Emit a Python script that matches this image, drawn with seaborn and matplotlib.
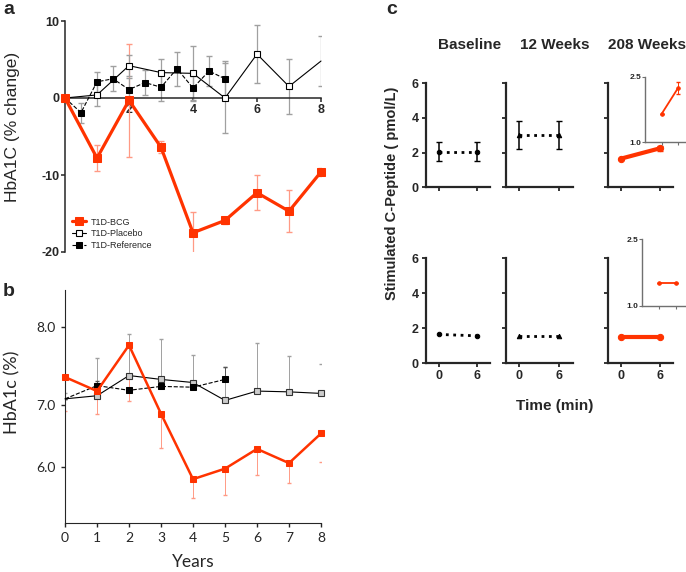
import matplotlib
matplotlib.use('Agg')
import matplotlib.pyplot as plt
import numpy as np
import seaborn as sns

sns.set_style('ticks')
plt.rcParams['font.family'] = ['Liberation Sans', 'DejaVu Sans']
plt.rcParams['axes.unicode_minus'] = False

W, H = 686, 572
RED = '#ff3300'
LRED = '#ff9a85'
GRAY = '#a0a0a0'

# panel a: HbA1C % change from baseline
years_a = [0, 1, 2, 3, 4, 5, 6, 7, 8]
bcg_a = [0, -7.8, -0.3, -6.4, -17.5, -15.9, -12.3, -14.7, -9.6]
bcg_a_err = [0, 1.7, 7.3, 0.8, 2.7, 0.4, 2.3, 2.7, 0.5]
placebo_a = [0, 0.4, 4.2, 3.3, 3.2, 0, 5.7, 1.5, 4.8]
placebo_a_err = [0, 1.5, 1.4, 1.8, 3.6, 4.5, 3.8, 3.6, 3.3]
ref_years_a = [0, 0.5, 1, 1.5, 2, 2.5, 3, 3.5, 4, 4.5, 5]
ref_a = [0, -1.9, 2.1, 2.5, 1.1, 2.0, 1.4, 3.8, 1.3, 3.5, 2.5]
ref_a_err = [0, 1.3, 1.3, 1.6, 1.5, 1.6, 1.8, 2.2, 1.5, 2.0, 2.3]

# panel b: HbA1c (%)
years_b = [0, 1, 2, 3, 4, 5, 6, 7, 8]
bcg_b = [7.36, 7.18, 7.77, 6.86, 5.80, 5.97, 6.29, 6.06, 6.54]
bcg_b_err = [0.45, 0.33, 0.72, 0.56, 0.30, 0.43, 0.42, 0.33, 0.47]
placebo_b = [7.08, 7.12, 7.38, 7.33, 7.29, 7.06, 7.18, 7.17, 7.15]
placebo_b_err = [0.07, 0.49, 0.54, 0.52, 0.35, 0.43, 0.62, 0.46, 0.38]
ref_years_b = [0, 1, 2, 3, 4, 5]
ref_b = [7.08, 7.25, 7.19, 7.24, 7.23, 7.33]
ref_b_err = [0, 0.06, 0, 0, 0, 0.16]

# panel c: stimulated C-peptide
times = [0, 6]
col_titles = ['Baseline', '12 Weeks', '208 Weeks']
top_vals = [[2.05, 2.05], [3.0, 3.0], [1.65, 2.25]]
top_err = [[0.55, 0.55], [0.8, 0.8], [0, 0.14]]
bot_vals = [[1.65, 1.57], [1.55, 1.55], [1.52, 1.52]]


def px_axes(fig, left, top, right, bottom):
    return fig.add_axes([left / W, 1 - bottom / H, (right - left) / W, (bottom - top) / H])


fig = plt.figure(figsize=(W / 100, H / 100), dpi=100)

# ---------------- panel a
ax = px_axes(fig, 65, 21, 321, 252)
ax.errorbar(years_a, bcg_a, yerr=bcg_a_err, fmt='none', ecolor=LRED, elinewidth=0.9, capsize=2, zorder=1)
ax.errorbar(years_a, placebo_a, yerr=placebo_a_err, fmt='none', ecolor=GRAY, elinewidth=0.9, capsize=2, zorder=1)
ax.errorbar(ref_years_a, ref_a, yerr=ref_a_err, fmt='none', ecolor=GRAY, elinewidth=0.9, capsize=2, zorder=1)
sns.lineplot(x=years_a, y=bcg_a, ax=ax, color=RED, lw=2.3, marker='s', ms=5.5, mec=RED,
             label='T1D-BCG', clip_on=False, zorder=4)
sns.lineplot(x=years_a, y=placebo_a, ax=ax, color='black', lw=0.8, marker='s', ms=4.5,
             mfc='white', mec='black', mew=0.8, markevery=list(range(8)),
             label='T1D-Placebo', clip_on=False, zorder=3)
sns.lineplot(x=ref_years_a, y=ref_a, ax=ax, color='black', lw=0.8, ls='--', marker='s', ms=4.5,
             mec='black', label='T1D-Reference', clip_on=False, zorder=3)
ax.set_xlim(0, 8)
ax.set_ylim(-20, 10)
ax.spines['bottom'].set_position(('data', 0))
ax.spines[['top', 'right']].set_visible(False)
for s in ['left', 'bottom']:
    ax.spines[s].set_linewidth(1.1)
ax.set_xticks([2, 4, 6, 8])
ax.set_yticks([10, 0, -10, -20])
ax.tick_params(labelsize=9, width=1.1, length=3, pad=1)
for t in ax.get_xticklabels() + ax.get_yticklabels():
    t.set_fontweight('bold')
ax.set_xlabel('')
ax.set_ylabel('')
ax.legend(loc='upper left', bbox_to_anchor=(68 / W, 1 - 214 / H), bbox_transform=fig.transFigure,
          frameon=False, fontsize=6.5, handlelength=1.6, labelspacing=0.3, handletextpad=0.5,
          borderaxespad=0)
fig.text(13 / W, 1 - 127 / H, 'HbA1C (% change)', rotation=90, ha='center', va='center', fontsize=12.5)

# ---------------- panel b (axis stretched above 7.0 like the original)
K = 77.7 / 61.7


def fwd(y):
    y = np.asarray(y, dtype=float)
    return np.where(y > 7, 7 + (y - 7) * K, y)


def inv(t):
    t = np.asarray(t, dtype=float)
    return np.where(t > 7, 7 + (t - 7) / K, t)


bx = px_axes(fig, 65, 290, 321, 523)
bx.set_yscale('function', functions=(fwd, inv))
bx.errorbar(years_b, bcg_b, yerr=[bcg_b_err, [0] * 9], fmt='none', ecolor=LRED, elinewidth=0.7, capsize=1.5, zorder=1)
bx.errorbar(years_b, placebo_b, yerr=[[0] * 9, placebo_b_err], fmt='none', ecolor=GRAY, elinewidth=0.7, capsize=1.5, zorder=1)
bx.errorbar(ref_years_b, ref_b, yerr=[[0] * 6, ref_b_err], fmt='none', ecolor='#555555', elinewidth=0.7, capsize=1.5, zorder=1)
sns.lineplot(x=years_b, y=bcg_b, ax=bx, color=RED, lw=1.8, marker='s', ms=4.5, mec=RED, clip_on=False, zorder=4)
sns.lineplot(x=years_b, y=placebo_b, ax=bx, color='black', lw=0.8, marker='s', ms=3.8,
             mfc='#cccccc', mec='#333333', mew=0.8, markevery=list(range(1, 9)), clip_on=False, zorder=3)
sns.lineplot(x=ref_years_b, y=ref_b, ax=bx, color='black', lw=0.8, ls='--', marker='s', ms=4,
             mec='black', markevery=list(range(1, 6)), clip_on=False, zorder=3)
bx.set_xlim(0, 8)
bx.set_ylim(5.09, 8.48)
bx.spines[['top', 'right']].set_visible(False)
bx.set_xticks(years_b)
bx.set_yticks([6.0, 7.0, 8.0])
bx.set_yticklabels(['6.0', '7.0', '8.0'])
bx.yaxis.set_minor_locator(matplotlib.ticker.NullLocator())
bx.tick_params(labelsize=10, width=1, length=3)
for t in bx.get_xticklabels() + bx.get_yticklabels():
    t.set_fontfamily('Lato')
bx.set_xlabel('')
bx.set_ylabel('')
fig.text(12 / W, 1 - 392 / H, 'HbA1c (%)', rotation=90, ha='center', va='center', fontsize=13, family='Lato')
fig.text(193 / W, 1 - 562 / H, 'Years', ha='center', va='center', fontsize=12.5, family='Lato')

# ---------------- panel c
col_left = [425.7, 505.7, 607.7]
col_right = [490, 572.7, 673]
rows = [(83.3, 187.3), (258.3, 363.3)]
styles = [dict(color='black', ls=':', lw=2, marker='o', ms=3.2),
          dict(color='black', ls=':', lw=2, marker='^', ms=3.2),
          dict(color=RED, ls='-', lw=3, marker='o', ms=4.5)]

for r, (top, bottom) in enumerate(rows):
    for c in range(3):
        cx = px_axes(fig, col_left[c], top, col_right[c], bottom)
        st = styles[c]
        if r == 0:
            vals = top_vals[c]
            cx.errorbar(times, vals, yerr=top_err[c], fmt='none', ecolor=st['color'],
                        elinewidth=1.1, capsize=2.5, zorder=1)
        else:
            vals = bot_vals[c]
        sns.lineplot(x=times, y=vals, ax=cx, mec=st['color'], clip_on=False, **st)
        cx.set_xlim(-2, 8)
        cx.set_ylim(0, 6)
        cx.set_xticks(times)
        cx.set_yticks([0, 2, 4, 6])
        cx.spines[['top', 'right']].set_visible(False)
        for s in ['left', 'bottom']:
            cx.spines[s].set_linewidth(1.6)
        cx.tick_params(width=1.3, length=3, labelsize=9, pad=2)
        if c > 0:
            cx.set_yticklabels([])
        if r == 0:
            cx.set_xticklabels([])
        for t in cx.get_xticklabels() + cx.get_yticklabels():
            t.set_fontweight('bold')
        cx.set_xlabel('')
        cx.set_ylabel('')

# insets for 208 weeks
inset_boxes = [(645, 76.7, 688, 142.3), (641.7, 239, 686, 306)]
inset_vals = [top_vals[2], bot_vals[2]]
inset_err = [top_err[2], [0, 0]]
for (l, t, rgt, b), vals, err in zip(inset_boxes, inset_vals, inset_err):
    ix = px_axes(fig, l, t, rgt, b)
    ix.patch.set_alpha(0)
    ix.errorbar(times, vals, yerr=err, fmt='none', ecolor=RED, elinewidth=0.7, capsize=1.5, zorder=1)
    sns.lineplot(x=times, y=vals, ax=ix, color=RED, lw=1.3, marker='o', ms=2.5, mec=RED, clip_on=False)
    ix.set_xlim(-6, 9.5)
    ix.set_ylim(1.0, 2.5)
    ix.set_xticks(times)
    ix.set_xticklabels([])
    ix.set_yticks([1.0, 2.5])
    ix.set_yticklabels(['1.0', '2.5'], fontsize=6, fontweight='bold')
    ix.spines[['top', 'right']].set_visible(False)
    for s in ['left', 'bottom']:
        ix.spines[s].set_color('#707070')
        ix.spines[s].set_linewidth(1)
    ix.tick_params(length=2, width=0.8, color='#707070', pad=0.5)
    ix.set_xlabel('')
    ix.set_ylabel('')

for x, title in zip([470, 555, 647], col_titles):
    fig.text(x / W, 1 - 45 / H, title, ha='center', va='center', fontsize=11, fontweight='bold')
fig.text(392 / W, 1 - 193 / H, 'Stimulated C-Peptide ( pmol/L)', rotation=90, ha='center', va='center',
         fontsize=10.5, fontweight='bold')
fig.text(555 / W, 1 - 406 / H, 'Time (min)', ha='center', va='center', fontsize=11, fontweight='bold')

# panel letters
fig.text(3 / W, 1 - 1 / H, 'a', ha='left', va='top', fontsize=14, fontweight='bold')
fig.text(3 / W, 1 - 283 / H, 'b', ha='left', va='top', fontsize=14, fontweight='bold')
fig.text(386 / W, 1 - 1 / H, 'c', ha='left', va='top', fontsize=14, fontweight='bold')

fig.savefig('out.png', dpi=100)
